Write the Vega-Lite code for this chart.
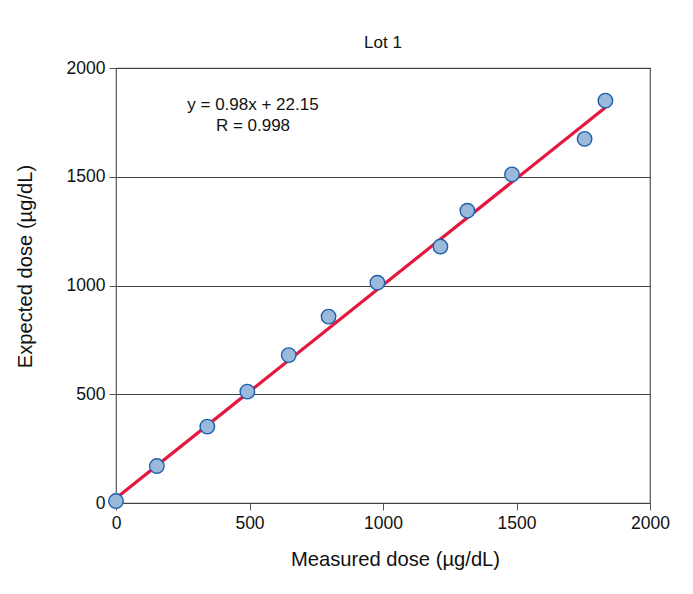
{
  "$schema": "https://vega.github.io/schema/vega-lite/v6.json",
  "autosize": {"type": "none"},
  "width": 534,
  "height": 435,
  "padding": {"left": 116, "top": 68, "right": 43, "bottom": 91},
  "background": "white",
  "config": {
    "font": "Liberation Sans",
    "view": {"stroke": "#555555", "strokeWidth": 1.2},
    "axis": {
      "labelFont": "Liberation Sans",
      "titleFont": "Liberation Sans",
      "labelFontSize": 17.5,
      "titleFontSize": 20.2,
      "titleFontWeight": "normal",
      "labelColor": "#111",
      "titleColor": "#111",
      "domain": false,
      "tickColor": "#555555",
      "tickSize": 7,
      "gridColor": "#444444",
      "gridWidth": 1,
      "gridOpacity": 1,
      "format": "d",
      "labelFlush": false
    }
  },
  "title": {
    "text": "Lot 1",
    "fontSize": 17,
    "fontWeight": "normal",
    "font": "Liberation Sans",
    "color": "#111",
    "offset": 7
  },
  "datasets": {
    "points": [
      {"measured": 0, "expected": 9},
      {"measured": 153, "expected": 170},
      {"measured": 342, "expected": 351},
      {"measured": 492, "expected": 512},
      {"measured": 647, "expected": 680},
      {"measured": 796, "expected": 857},
      {"measured": 979, "expected": 1013},
      {"measured": 1215, "expected": 1179},
      {"measured": 1316, "expected": 1344},
      {"measured": 1483, "expected": 1511},
      {"measured": 1755, "expected": 1674},
      {"measured": 1833, "expected": 1850}
    ],
    "fit": [
      {"measured": 0, "expected": 22.15},
      {"measured": 1833, "expected": 1818.5}
    ],
    "labels": [
      {"measured": 513, "expected": 1830, "text": "y = 0.98x + 22.15"},
      {"measured": 513, "expected": 1733, "text": "R = 0.998"}
    ]
  },
  "layer": [
    {
      "data": {"name": "fit"},
      "mark": {"type": "line", "color": "#e4173c", "strokeWidth": 3.2},
      "encoding": {
        "x": {
          "field": "measured", "type": "quantitative",
          "scale": {"domain": [0, 2000], "nice": false},
          "axis": {"values": [0, 500, 1000, 1500, 2000], "grid": false, "title": "Measured dose (µg/dL)", "labelPadding": 4, "titlePadding": 18, "titleX": 279}
        },
        "y": {
          "field": "expected", "type": "quantitative",
          "scale": {"domain": [0, 2000], "nice": false},
          "axis": {"values": [0, 500, 1000, 1500, 2000], "grid": true, "title": "Expected dose (µg/dL)", "labelPadding": 4, "titlePadding": 31, "titleY": 198}
        }
      }
    },
    {
      "data": {"name": "points"},
      "mark": {"type": "point", "shape": "circle", "filled": true, "size": 210, "fill": "#9ab9db", "stroke": "#1f5fad", "strokeWidth": 1.4, "opacity": 1},
      "encoding": {
        "x": {"field": "measured", "type": "quantitative"},
        "y": {"field": "expected", "type": "quantitative"}
      }
    },
    {
      "data": {"name": "labels"},
      "mark": {"type": "text", "fontSize": 17, "font": "Liberation Sans", "color": "#111", "align": "center", "baseline": "middle"},
      "encoding": {
        "x": {"field": "measured", "type": "quantitative"},
        "y": {"field": "expected", "type": "quantitative"},
        "text": {"field": "text"}
      }
    }
  ]
}
